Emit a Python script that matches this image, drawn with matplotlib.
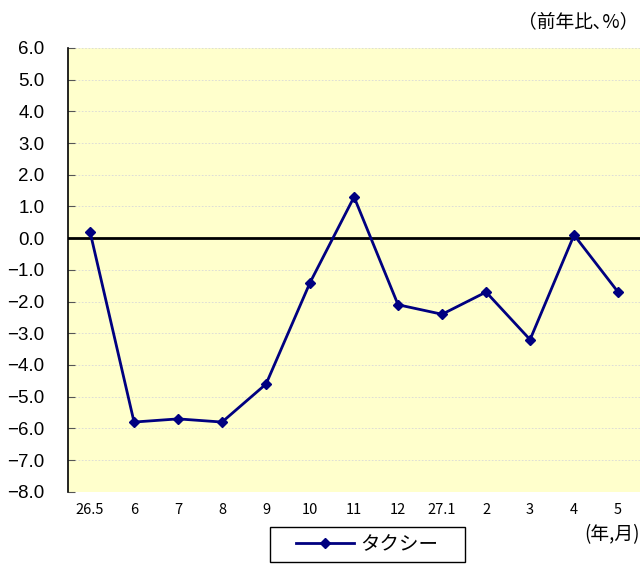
import matplotlib
matplotlib.use("Agg")
import matplotlib.pyplot as plt
from matplotlib.patches import Rectangle
import numpy as np

plt.rcParams["font.family"] = ["Noto Sans CJK JP", "DejaVu Sans"]

months = ["26.5", "6", "7", "8", "9", "10", "11", "12", "27.1", "2", "3", "4", "5"]
taxi = [0.2, -5.8, -5.7, -5.8, -4.6, -1.4, 1.3, -2.1, -2.4, -1.7, -3.2, 0.1, -1.7]
yticks = np.arange(-8.0, 6.01, 1.0)

fig = plt.figure(figsize=(6.42, 5.64), dpi=100)
ax = fig.add_axes([0.106, 0.128, 0.891, 0.787])
ax.set_facecolor("#FFFFCC")

x = np.arange(len(months))
ax.plot(x, taxi, color="#000080", lw=2, marker="D", ms=5, label="タクシー", zorder=3)
ax.axhline(0, color="black", lw=2, zorder=2)

ax.set_xlim(-0.5, len(months) - 0.5)
ax.set_ylim(-8, 6)
ax.set_yticks(yticks)
ax.set_yticklabels([f"{v:.1f}".replace("-", "\u2212") for v in yticks], fontsize=13.5,
                   family=["Liberation Sans", "DejaVu Sans"])
ax.set_xticks(x)
ax.set_xticklabels(months, fontsize=10.5)
ax.tick_params(axis="x", length=0, pad=8)
ax.tick_params(axis="y", direction="in", length=5, color="#555555", pad=17)
ax.yaxis.grid(True, color="#d8d8d8", lw=0.6, ls=(0, (2, 2)))
ax.set_axisbelow(True)
for s in ["top", "right", "bottom"]:
    ax.spines[s].set_visible(False)
ax.spines["left"].set_color("black")
ax.spines["left"].set_linewidth(1.2)

fig.text(0.995, 0.962, "（前年比､%）", ha="right", va="center", fontsize=13.5)
fig.text(0.997, 0.052, "(年,月)", ha="right", va="center", fontsize=13.5)

# legend box drawn separately so its size matches the original
fig.patches.append(Rectangle((270 / 642, 2 / 564), 195 / 642, 35 / 564,
                             transform=fig.transFigure, facecolor="white",
                             edgecolor="black", lw=1.0))
fig.legend(loc="center", bbox_to_anchor=(0.572, 0.035), fontsize=14,
           frameon=False, handlelength=3.0, handletextpad=0.3, borderaxespad=0)

fig.savefig("out.png", dpi=100)
